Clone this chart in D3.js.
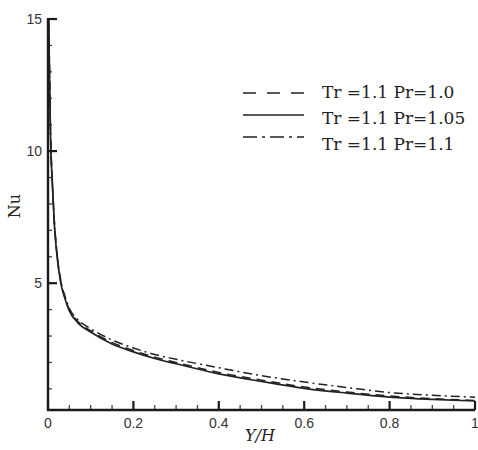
<!DOCTYPE html>
<html>
<head>
<meta charset="utf-8">
<script src="https://cdn.jsdelivr.net/npm/d3@7"></script>
<style>
  body { margin: 0; background: #fff; }
  svg { display: block; }
</style>
</head>
<body>
<div id="chart"></div>
<script>
var xs = [0.001, 0.003, 0.006, 0.01, 0.015, 0.02, 0.03, 0.04, 0.05, 0.07, 0.1, 0.15, 0.2, 0.25, 0.3, 0.4, 0.5, 0.6, 0.7, 0.8, 0.9, 1.0];

// Nu for each case
var nuPr100 = [15.5, 13.6, 10.6, 8.9, 7.3, 6.3, 5.05, 4.45, 4.0, 3.55, 3.2, 2.76, 2.45, 2.2, 2.0, 1.62, 1.33, 1.07, 0.88, 0.73, 0.63, 0.56];
var nuPr105 = [15.5, 13.5, 10.5, 8.8, 7.2, 6.2, 5.0, 4.4, 3.95, 3.5, 3.15, 2.7, 2.4, 2.15, 1.95, 1.57, 1.28, 1.02, 0.84, 0.69, 0.6, 0.54];
var nuPr110 = [15.5, 13.6, 10.6, 8.9, 7.3, 6.3, 5.1, 4.5, 4.05, 3.62, 3.28, 2.85, 2.55, 2.3, 2.12, 1.8, 1.5, 1.26, 1.05, 0.86, 0.76, 0.68];

var legendLabels = ["Tr =1.1 Pr=1.0", "Tr =1.1 Pr=1.05", "Tr =1.1 Pr=1.1"];
var xMajor = [0, 0.2, 0.4, 0.6, 0.8, 1];
var xMinor = [0.05, 0.1, 0.15, 0.25, 0.3, 0.35, 0.45, 0.5, 0.55, 0.65, 0.7, 0.75, 0.85, 0.9, 0.95];
var yMajor = [5, 10, 15];
var yMinor = [1, 2, 3, 4, 6, 7, 8, 9, 11, 12, 13, 14];

var width = 478, height = 450;
var margin = {top: 19, right: 3, bottom: 40, left: 48};

var svg = d3.select("#chart")
  .append("svg")
    .attr("width", width)
    .attr("height", height);

var x = d3.scaleLinear()
  .domain([0, 1])
  .range([margin.left, width - margin.right]);

var y = d3.scaleLinear()
  .domain([0.2, 15])
  .range([height - margin.bottom, margin.top]);

var axisColor = "#1a1a1a";
var y0 = y(0.2), x0 = x(0);

// ticks, pointing into the plot
var ticks = svg.append("g").attr("class", "ticks");
ticks.selectAll("line.xminor").data(xMinor).enter().append("line")
  .attr("class", "xminor")
  .attr("x1", function(d) { return x(d); }).attr("x2", function(d) { return x(d); })
  .attr("y1", y0).attr("y2", y0 - 5)
  .attr("stroke", "#444").attr("stroke-width", 1.3);
ticks.selectAll("line.xmajor").data(xMajor).enter().append("line")
  .attr("class", "xmajor")
  .attr("x1", function(d) { return x(d); }).attr("x2", function(d) { return x(d); })
  .attr("y1", y0).attr("y2", y0 - 9)
  .attr("stroke", axisColor).attr("stroke-width", 2.2);
ticks.selectAll("line.yminor").data(yMinor).enter().append("line")
  .attr("class", "yminor")
  .attr("x1", x0).attr("x2", x0 + 4)
  .attr("y1", function(d) { return y(d); }).attr("y2", function(d) { return y(d); })
  .attr("stroke", "#444").attr("stroke-width", 1.3);
ticks.selectAll("line.ymajor").data(yMajor).enter().append("line")
  .attr("class", "ymajor")
  .attr("x1", x0).attr("x2", x0 + 9)
  .attr("y1", function(d) { return y(d); }).attr("y2", function(d) { return y(d); })
  .attr("stroke", axisColor).attr("stroke-width", 2.2);

// clip so the steep start stays inside the plot
svg.append("clipPath").attr("id", "plot")
  .append("rect")
    .attr("x", x(0))
    .attr("y", y(15))
    .attr("width", x(1) - x(0))
    .attr("height", y(0.2) - y(15));

var series = [
  {name: legendLabels[0], values: nuPr100, dash: "9,6", width: 1.5},
  {name: legendLabels[1], values: nuPr105, dash: null, width: 1.7},
  {name: legendLabels[2], values: nuPr110, dash: "9,4,2,4", width: 1.5}
];

var line = d3.line()
  .x(function(d) { return x(d[0]); })
  .y(function(d) { return y(d[1]); })
  .curve(d3.curveMonotoneX);

svg.append("g")
  .attr("clip-path", "url(#plot)")
  .selectAll("path")
  .data(series)
  .enter().append("path")
    .attr("d", function(s) { return line(xs.map(function(v, i) { return [v, s.values[i]]; })); })
    .attr("fill", "none")
    .attr("stroke", "#222")
    .attr("stroke-width", function(s) { return s.width; })
    .attr("stroke-dasharray", function(s) { return s.dash; });

// axis lines
svg.append("line")
  .attr("x1", x(0) - 1).attr("x2", x(1))
  .attr("y1", y0).attr("y2", y0)
  .attr("stroke", axisColor).attr("stroke-width", 2.4);
svg.append("line")
  .attr("x1", x0).attr("x2", x0)
  .attr("y1", y0 + 1).attr("y2", y(15) - 1)
  .attr("stroke", axisColor).attr("stroke-width", 2.4);

// tick labels
svg.selectAll("text.xlab")
  .data(xMajor)
  .enter().append("text")
    .attr("class", "xlab")
    .attr("x", function(d) { return x(d); })
    .attr("y", y0 + 18)
    .attr("text-anchor", "middle")
    .attr("font-family", "Liberation Sans, Arial, sans-serif")
    .attr("font-size", 14)
    .attr("fill", "#333")
    .text(function(d) { return d; });
svg.selectAll("text.ylab")
  .data(yMajor)
  .enter().append("text")
    .attr("class", "ylab")
    .attr("x", x0 - 6)
    .attr("y", function(d) { return y(d) + 5; })
    .attr("text-anchor", "end")
    .attr("font-family", "Liberation Sans, Arial, sans-serif")
    .attr("font-size", 14)
    .attr("fill", "#333")
    .text(function(d) { return d; });

// axis titles
svg.append("text")
  .attr("transform", "translate(20,206) rotate(-90)")
  .attr("text-anchor", "middle")
  .attr("font-family", "DejaVu Serif, serif")
  .attr("font-size", 16)
  .attr("fill", "#222")
  .text("Nu");

svg.append("text")
  .attr("x", 260)
  .attr("y", 441)
  .attr("text-anchor", "middle")
  .attr("font-family", "DejaVu Serif, serif")
  .attr("font-style", "italic")
  .attr("font-size", 16)
  .attr("fill", "#222")
  .text("Y/H");

// legend
var legendY = [93, 115, 137];
var legendDash = ["13,11", null, "14,5,3,5"];
series.forEach(function(s, i) {
  svg.append("line")
    .attr("x1", 243).attr("x2", 304)
    .attr("y1", legendY[i]).attr("y2", legendY[i])
    .attr("stroke", "#222")
    .attr("stroke-width", s.width)
    .attr("stroke-dasharray", legendDash[i]);
  svg.append("text")
    .attr("x", 322)
    .attr("y", legendY[i] + 5 + i * 4)
    .attr("font-family", "DejaVu Serif, serif")
    .attr("font-size", 17)
    .attr("fill", "#222")
    .text(s.name);
});
</script>
</body>
</html>
